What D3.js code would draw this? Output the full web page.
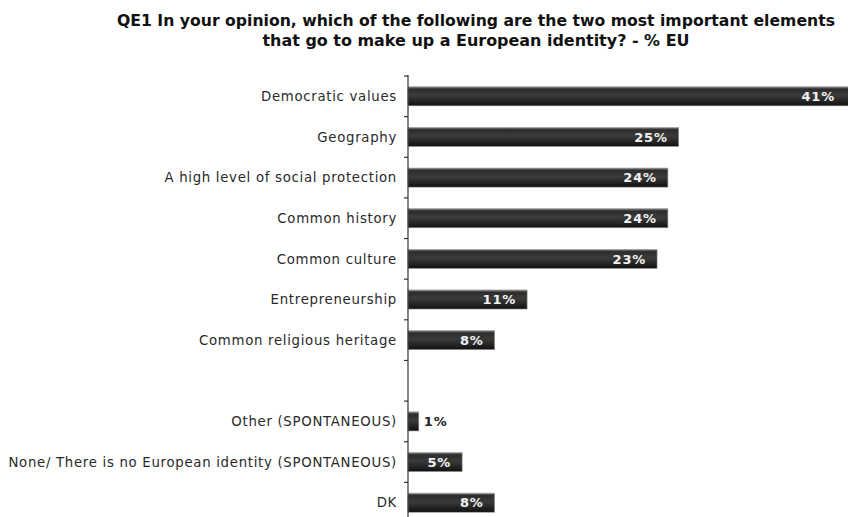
<!DOCTYPE html>
<html>
<head>
<meta charset="utf-8">
<script src="https://cdn.jsdelivr.net/npm/d3@7"></script>
<style>
  html, body { margin: 0; padding: 0; background: #fff; }
  svg { display: block; }
</style>
</head>
<body>
<svg id="chart" width="848" height="517"></svg>
<script>
// Survey answers, in display order; "" marks the empty gap row
const categories = [
  "Democratic values",
  "Geography",
  "A high level of social protection",
  "Common history",
  "Common culture",
  "Entrepreneurship",
  "Common religious heritage",
  "",
  "Other (SPONTANEOUS)",
  "None/ There is no European identity (SPONTANEOUS)",
  "DK"
];
const values = [41, 25, 24, 24, 23, 11, 8, null, 1, 5, 8];
const valueLabels = ["41%", "25%", "24%", "24%", "23%", "11%", "8%", "", "1%", "5%", "8%"];
const titleLines = [
  "QE1 In your opinion, which of the following are the two most important elements",
  "that go to make up a European identity? - % EU"
];

const W = 848, H = 517;
const svg = d3.select("#chart");
const axisX = 408;

const x = d3.scaleLinear().domain([0, 41]).range([axisX, 852]);
const y = d3.scaleBand().domain(d3.range(categories.length)).range([76, 523]).paddingInner(0.53).paddingOuter(0.265);

// bar gradient: bright top edge, dark glossy body
const defs = svg.append("defs");
const grad = defs.append("linearGradient").attr("id", "barGrad")
  .attr("x1", 0).attr("y1", 0).attr("x2", 0).attr("y2", 1);
[["0%", "#8a8a8a"], ["12%", "#2c2c2c"], ["45%", "#3b3b3b"], ["85%", "#1c1c1c"], ["100%", "#101010"]]
  .forEach(([o, c]) => grad.append("stop").attr("offset", o).attr("stop-color", c));

// title, two centred lines
const titleWidths = [718, 427];
svg.append("g").selectAll("text").data(titleLines).join("text")
  .attr("x", 476).attr("y", (d, i) => 26 + i * 20)
  .attr("text-anchor", "middle")
  .attr("font-family", "'DejaVu Sans', Verdana, sans-serif")
  .attr("font-weight", "bold")
  .attr("font-size", 15.5)
  .attr("textLength", (d, i) => titleWidths[i])
  .attr("lengthAdjust", "spacingAndGlyphs")
  .attr("fill", "#111")
  .text(d => d);

const rows = categories.map((c, i) => ({ c, v: values[i], lab: valueLabels[i], i }));

// category labels
svg.append("g").selectAll("text").data(rows.filter(r => r.c)).join("text")
  .attr("x", 397)
  .attr("y", r => y(r.i) + y.bandwidth() / 2)
  .attr("dy", "0.35em")
  .attr("text-anchor", "end")
  .attr("font-family", "'DejaVu Sans', Verdana, sans-serif")
  .attr("font-size", 13.3)
  .attr("letter-spacing", 0.7)
  .attr("fill", "#2a2a2a")
  .text(r => r.c);

// bars
const barRows = rows.filter(r => r.v != null);
svg.append("g").selectAll("rect").data(barRows).join("rect")
  .attr("x", x(0))
  .attr("y", r => y(r.i))
  .attr("width", r => x(r.v) - x(0))
  .attr("height", y.bandwidth())
  .attr("fill", "url(#barGrad)")
  .attr("stroke", "#9a9a9a")
  .attr("stroke-width", 0.6);

// value labels: inside (white) when the bar is wide enough, else outside
svg.append("g").selectAll("text").data(barRows).join("text")
  .attr("x", r => r.v >= 3 ? Math.min(x(r.v) - 11, W - 13) : x(r.v) + 5)
  .attr("y", r => y(r.i) + y.bandwidth() / 2)
  .attr("dy", "0.36em")
  .attr("text-anchor", r => r.v >= 3 ? "end" : "start")
  .attr("font-family", "'DejaVu Sans', Verdana, sans-serif")
  .attr("font-weight", "bold")
  .attr("font-size", 13)
  .attr("letter-spacing", 0.8)
  .attr("fill", r => r.v >= 3 ? "#f2f2f2" : "#222")
  .text(r => r.lab);

// vertical axis with ticks between rows
const axisG = svg.append("g").attr("stroke", "#333").attr("stroke-width", 1.2);
axisG.append("line")
  .attr("x1", axisX).attr("x2", axisX)
  .attr("y1", 75).attr("y2", H);
const step = y.step();
const boundaries = d3.range(categories.length).map(i => y(i) - y.paddingOuter() * step);
axisG.selectAll("line.tick").data(boundaries).join("line").attr("class", "tick")
  .attr("x1", axisX - 4).attr("x2", axisX)
  .attr("y1", d => d).attr("y2", d => d);
</script>
</body>
</html>
